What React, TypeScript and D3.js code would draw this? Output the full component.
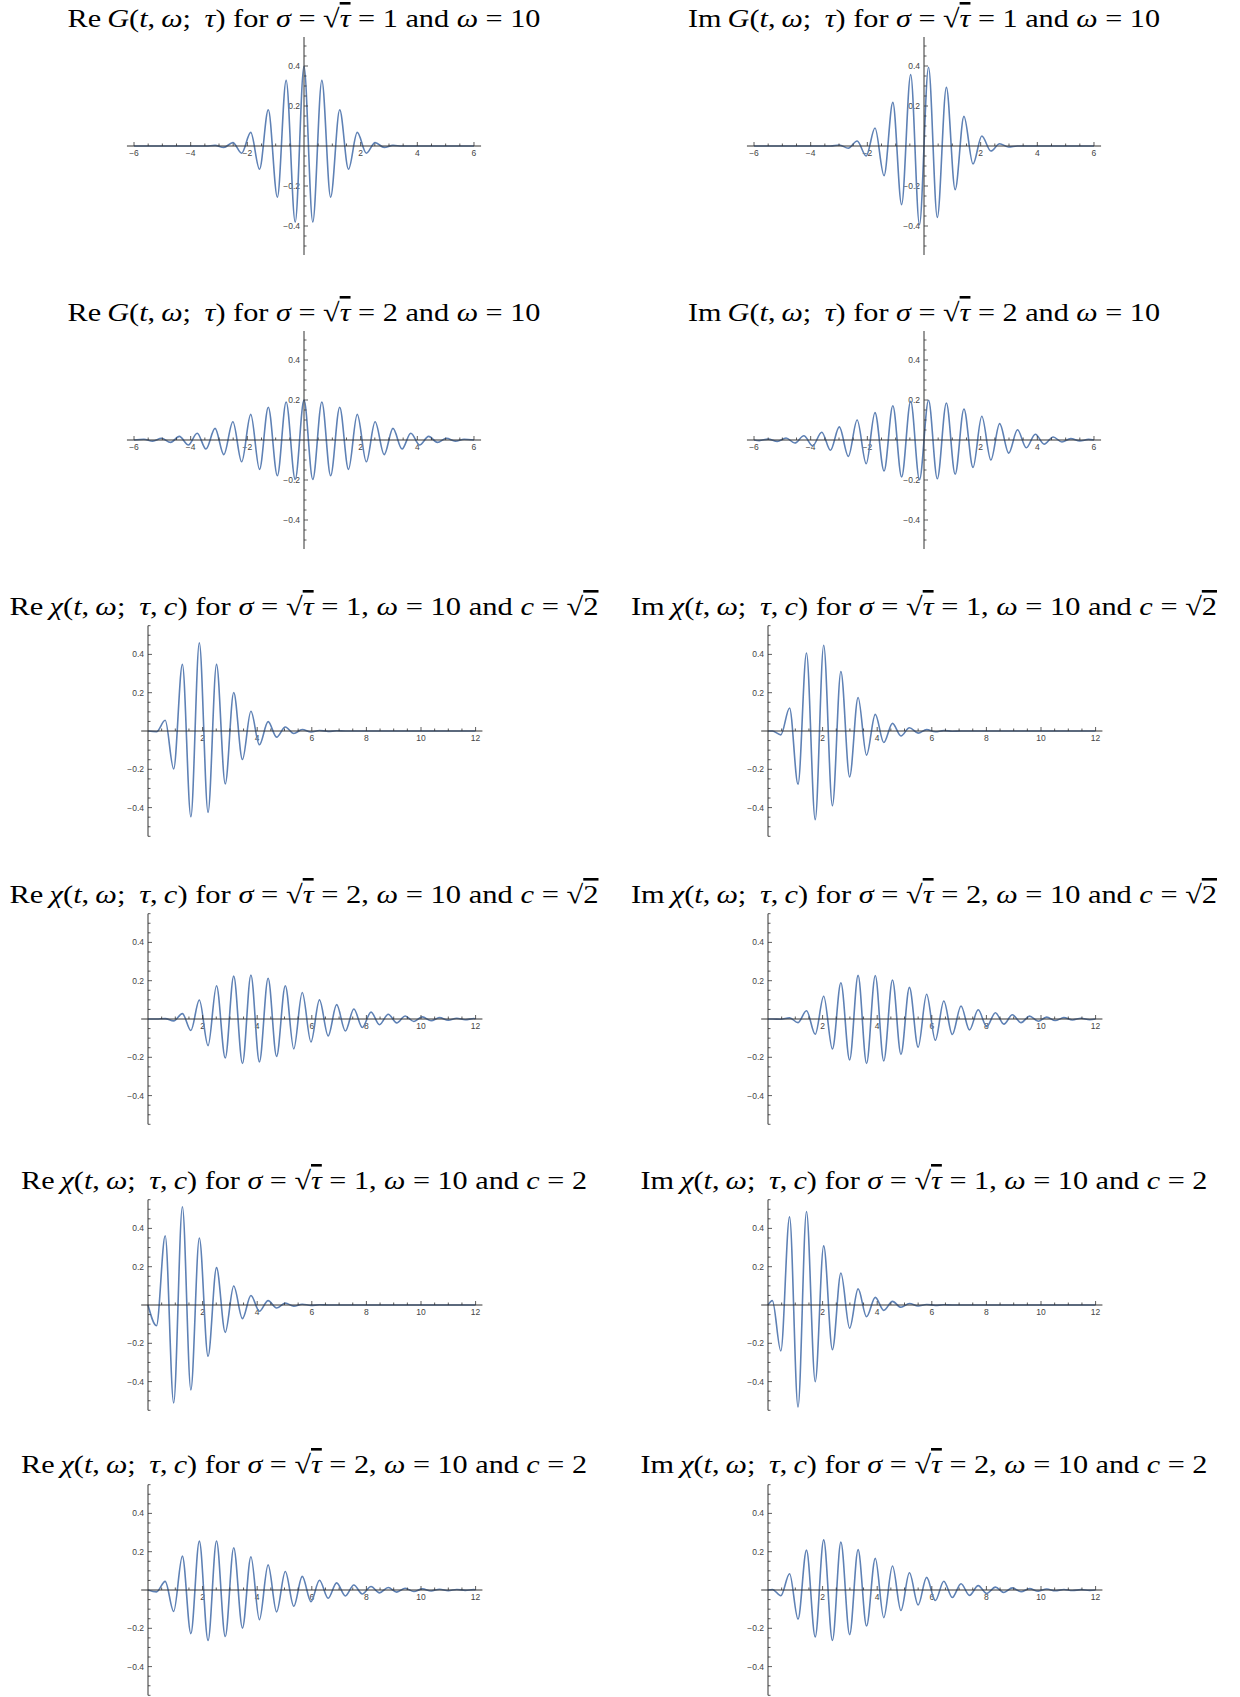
import React from 'react';
import * as d3 from 'd3';

const WIDTH = 1240;
const HEIGHT = 1697;

// ---- t positions of the extrema ----
const G_RE_T = [-6, -5.65, -5.34, -5.03, -4.71, -4.4, -4.08, -3.77, -3.46, -3.14, -2.83, -2.51, -2.2, -1.88, -1.57, -1.26, -0.94, -0.63, -0.31, 0, 0.31, 0.63, 0.94, 1.26, 1.57, 1.88, 2.2, 2.51, 2.83, 3.14, 3.46, 3.77, 4.08, 4.4, 4.71, 5.03, 5.34, 5.65, 6];
const G_IM_T = [-6, -5.81, -5.5, -5.18, -4.87, -4.56, -4.24, -3.93, -3.61, -3.3, -2.99, -2.67, -2.36, -2.04, -1.73, -1.41, -1.1, -0.79, -0.47, -0.16, 0.16, 0.47, 0.79, 1.1, 1.41, 1.73, 2.04, 2.36, 2.67, 2.99, 3.3, 3.61, 3.93, 4.24, 4.56, 4.87, 5.18, 5.5, 5.81, 6];
const CHI_RE_T = [0, 0.31, 0.63, 0.94, 1.26, 1.57, 1.88, 2.2, 2.51, 2.83, 3.14, 3.46, 3.77, 4.08, 4.4, 4.71, 5.03, 5.34, 5.65, 5.97, 6.28, 6.6, 6.91, 7.23, 7.54, 7.85, 8.17, 8.48, 8.8, 9.11, 9.42, 9.74, 10.05, 10.37, 10.68, 11.0, 11.31, 11.62, 11.94, 12];
const CHI_IM_T = [0, 0.16, 0.47, 0.79, 1.1, 1.41, 1.73, 2.04, 2.36, 2.67, 2.99, 3.3, 3.61, 3.93, 4.24, 4.56, 4.87, 5.18, 5.5, 5.81, 6.13, 6.44, 6.75, 7.07, 7.38, 7.7, 8.01, 8.33, 8.64, 8.95, 9.27, 9.58, 9.9, 10.21, 10.52, 10.84, 11.15, 11.47, 11.78, 12];

// ---- values at those positions ----
const RE_G_S1 = [0, 0, 0, 0, 0, 0, 0, 0, 0, 0.003, -0.007, 0.017, -0.036, 0.068, -0.116, 0.181, -0.256, 0.328, -0.38, 0.399, -0.38, 0.328, -0.256, 0.181, -0.116, 0.068, -0.036, 0.017, -0.007, 0.003, 0, 0, 0, 0, 0, 0, 0, 0, 0];
const IM_G_S1 = [0, 0, 0, 0, 0, 0, 0, 0, 0, 0, 0.005, -0.011, 0.025, -0.05, 0.09, -0.148, 0.218, -0.293, 0.357, -0.394, 0.394, -0.357, 0.293, -0.218, 0.148, -0.09, 0.05, -0.025, 0.011, -0.005, 0, 0, 0, 0, 0, 0, 0, 0, 0, 0];
const RE_G_S2 = [0, 0.0037, -0.0056, 0.0085, -0.012, 0.018, -0.025, 0.034, -0.045, 0.058, -0.073, 0.091, -0.109, 0.128, -0.147, 0.164, -0.1785, 0.19, -0.197, 0.1995, -0.197, 0.19, -0.1785, 0.164, -0.147, 0.128, -0.109, 0.091, -0.073, 0.058, -0.045, 0.034, -0.025, 0.018, -0.012, 0.0085, -0.0056, 0.0037, 0];
const IM_G_S2 = [0, -0.003, 0.0046, -0.007, 0.01, -0.015, 0.021, -0.029, 0.039, -0.051, 0.0655, -0.082, 0.1, -0.1185, 0.137, -0.155, 0.1715, -0.185, 0.194, -0.199, 0.199, -0.194, 0.185, -0.1715, 0.155, -0.137, 0.1185, -0.1, 0.082, -0.0655, 0.051, -0.039, 0.029, -0.021, 0.015, -0.01, 0.007, -0.0046, 0.003, 0];

const RE_CHI_S1_CR2 = [0, -0.004, 0.056, -0.198, 0.348, -0.448, 0.46, -0.425, 0.348, -0.276, 0.201, -0.149, 0.103, -0.072, 0.049, -0.032, 0.021, -0.013, 0.008, -0.005, 0.003, -0.002, 0.001, 0, 0, 0, 0, 0, 0, 0, 0, 0, 0, 0, 0, 0, 0, 0, 0, 0];
const IM_CHI_S1_CR2 = [0, 0, -0.02, 0.12, -0.278, 0.407, -0.463, 0.448, -0.39, 0.311, -0.24, 0.175, -0.126, 0.087, -0.06, 0.04, -0.026, 0.017, -0.011, 0.007, -0.004, 0.002, -0.001, 0, 0, 0, 0, 0, 0, 0, 0, 0, 0, 0, 0, 0, 0, 0, 0, 0];
const RE_CHI_S2_CR2 = [0, 0, 0.002, -0.01, 0.028, -0.06, 0.099, -0.139, 0.174, -0.204, 0.224, -0.232, 0.23, -0.224, 0.213, -0.195, 0.174, -0.156, 0.138, -0.12, 0.1, -0.088, 0.075, -0.063, 0.052, -0.044, 0.036, -0.03, 0.025, -0.02, 0.016, -0.013, 0.011, -0.009, 0.007, -0.006, 0.004, -0.004, 0.003, 0];
const IM_CHI_S2_CR2 = [0, 0, -0.001, 0.006, -0.019, 0.043, -0.08, 0.119, -0.157, 0.189, -0.214, 0.228, -0.232, 0.227, -0.219, 0.204, -0.185, 0.165, -0.147, 0.129, -0.111, 0.094, -0.081, 0.068, -0.057, 0.048, -0.04, 0.033, -0.027, 0.022, -0.019, 0.015, -0.012, 0.01, -0.008, 0.007, -0.005, 0.004, -0.004, 0];
const RE_CHI_S1_C2 = [0, -0.108, 0.362, -0.511, 0.513, -0.443, 0.35, -0.268, 0.195, -0.143, 0.099, -0.071, 0.05, -0.033, 0.023, -0.016, 0.01, -0.006, 0.004, -0.002, 0.001, 0, 0, 0, 0, 0, 0, 0, 0, 0, 0, 0, 0, 0, 0, 0, 0, 0, 0, 0];
const IM_CHI_S1_C2 = [0, 0.023, -0.24, 0.46, -0.533, 0.488, -0.4, 0.309, -0.233, 0.167, -0.121, 0.084, -0.061, 0.04, -0.028, 0.019, -0.012, 0.008, -0.005, 0.003, -0.002, 0.001, 0, 0, 0, 0, 0, 0, 0, 0, 0, 0, 0, 0, 0, 0, 0, 0, 0, 0];
const RE_CHI_S2_C2 = [0, -0.01, 0.045, -0.112, 0.177, -0.228, 0.255, -0.264, 0.256, -0.243, 0.221, -0.199, 0.174, -0.155, 0.131, -0.114, 0.097, -0.085, 0.071, -0.061, 0.051, -0.043, 0.037, -0.031, 0.026, -0.021, 0.018, -0.015, 0.013, -0.011, 0.009, -0.008, 0.006, -0.005, 0.004, -0.004, 0.003, -0.002, 0.002, 0];
const IM_CHI_S2_C2 = [0, 0.003, -0.03, 0.085, -0.152, 0.208, -0.245, 0.262, -0.263, 0.25, -0.233, 0.211, -0.188, 0.165, -0.144, 0.125, -0.107, 0.09, -0.078, 0.066, -0.055, 0.046, -0.039, 0.033, -0.028, 0.023, -0.018, 0.015, -0.013, 0.011, -0.009, 0.007, -0.006, 0.005, -0.004, 0.003, -0.003, 0.002, -0.002, 0];

// ---- tick labels ----
const X_TICKS_G = [-6, -4, -2, 2, 4, 6];
const X_TICKS_CHI = [2, 4, 6, 8, 10, 12];
const Y_TICKS = [-0.4, -0.2, 0.2, 0.4];

type Part = [string, string];

const titleG = (pre: string, s: string): Part[] => [
  [pre, 'r'], ['\u2009', 'r'], ['G', 'i'], ['(', 'r'], ['t', 'i'], [',\u2009', 'r'], ['ω', 'i'], ['; \u2009', 'r'], ['τ', 'i'], [')', 'r'],
  [' for ', 'r'], ['σ', 'i'], [' = ', 'r'], ['√', 'r'], ['τ', 'io'], [' = ' + s + ' and ', 'r'], ['ω', 'i'], [' = 10', 'r'],
];
const titleChi = (pre: string, s: string, c: string): Part[] => [
  [pre, 'r'], ['\u2009', 'r'], ['χ', 'i'], ['(', 'r'], ['t', 'i'], [',\u2009', 'r'], ['ω', 'i'], ['; \u2009', 'r'], ['τ', 'i'], [',\u2009', 'r'], ['c', 'i'], [')', 'r'],
  [' for ', 'r'], ['σ', 'i'], [' = ', 'r'], ['√', 'r'], ['τ', 'io'], [' = ' + s + ', ', 'r'], ['ω', 'i'], [' = 10 and ', 'r'], ['c', 'i'], [' = ', 'r'],
  ...(c === 'r2' ? ([['√', 'r'], ['2', 'o']] as Part[]) : ([['2', 'r']] as Part[])),
];

interface PanelDef {
  kind: 'G' | 'C';
  col: number;
  axisY: number;
  titleY: number;
  titleLen: number;
  title: Part[];
  t: number[];
  v: number[];
}

const PANELS: PanelDef[] = [
  { kind: 'G', col: 0, axisY: 146, titleY: 27, titleLen: 473, title: titleG('Re', '1'), t: G_RE_T, v: RE_G_S1 },
  { kind: 'G', col: 1, axisY: 146, titleY: 27, titleLen: 472, title: titleG('Im', '1'), t: G_IM_T, v: IM_G_S1 },
  { kind: 'G', col: 0, axisY: 440, titleY: 321, titleLen: 473, title: titleG('Re', '2'), t: G_RE_T, v: RE_G_S2 },
  { kind: 'G', col: 1, axisY: 440, titleY: 321, titleLen: 472, title: titleG('Im', '2'), t: G_IM_T, v: IM_G_S2 },
  { kind: 'C', col: 0, axisY: 731, titleY: 615, titleLen: 589, title: titleChi('Re', '1', 'r2'), t: CHI_RE_T, v: RE_CHI_S1_CR2 },
  { kind: 'C', col: 1, axisY: 731, titleY: 615, titleLen: 586, title: titleChi('Im', '1', 'r2'), t: CHI_IM_T, v: IM_CHI_S1_CR2 },
  { kind: 'C', col: 0, axisY: 1019, titleY: 903, titleLen: 589, title: titleChi('Re', '2', 'r2'), t: CHI_RE_T, v: RE_CHI_S2_CR2 },
  { kind: 'C', col: 1, axisY: 1019, titleY: 903, titleLen: 586, title: titleChi('Im', '2', 'r2'), t: CHI_IM_T, v: IM_CHI_S2_CR2 },
  { kind: 'C', col: 0, axisY: 1305, titleY: 1189, titleLen: 566, title: titleChi('Re', '1', '2'), t: CHI_RE_T, v: RE_CHI_S1_C2 },
  { kind: 'C', col: 1, axisY: 1305, titleY: 1189, titleLen: 567, title: titleChi('Im', '1', '2'), t: CHI_IM_T, v: IM_CHI_S1_C2 },
  { kind: 'C', col: 0, axisY: 1590, titleY: 1473, titleLen: 566, title: titleChi('Re', '2', '2'), t: CHI_RE_T, v: RE_CHI_S2_C2 },
  { kind: 'C', col: 1, axisY: 1590, titleY: 1473, titleLen: 567, title: titleChi('Im', '2', '2'), t: CHI_IM_T, v: IM_CHI_S2_C2 },
];

const COL_CENTER = [304, 924];
const CURVE_COLOR = '#5E81B5';
const AXIS_COLOR = '#333';
const LABEL_COLOR = '#444';

function Title({ cx, y, len, parts }: { cx: number; y: number; len: number; parts: Part[] }) {
  return (
    <text
      x={cx}
      y={y}
      textAnchor="middle"
      textLength={len}
      lengthAdjust="spacingAndGlyphs"
      fontFamily="'Liberation Serif', 'DejaVu Serif', serif"
      fontSize={26}
      fill="#000"
      style={{ whiteSpace: 'pre' }}
    >
      {parts.map(([s, st], i) => (
        <tspan
          key={i}
          fontStyle={st.includes('i') ? 'italic' : 'normal'}
          textDecoration={st.includes('o') ? 'overline' : undefined}
        >
          {s}
        </tspan>
      ))}
    </text>
  );
}

function Panel({ p }: { p: PanelDef }) {
  const isG = p.kind === 'G';
  const ox = isG ? [304, 924][p.col] : [148, 768][p.col];
  const xUnit = isG ? 28.33 : 27.3;
  const yUnit = isG ? 200 : 191.5;
  const xMin = isG ? -6.25 : -0.25;
  const xMax = isG ? 6.25 : 12.25;
  const yMax = isG ? 0.545 : 0.55;
  const x = d3.scaleLinear().domain([0, 1]).range([ox, ox + xUnit]);
  const y = d3.scaleLinear().domain([0, 1]).range([p.axisY, p.axisY - yUnit]);

  const xTickVals: { v: number; major: boolean }[] = [];
  for (let i = Math.ceil(xMin * 2); i <= Math.floor(xMax * 2); i++) {
    if (i === 0) continue;
    xTickVals.push({ v: i / 2, major: i % 4 === 0 });
  }
  const yTickVals: { v: number; major: boolean }[] = [];
  for (let i = -Math.floor(yMax * 20 + 1e-6); i <= Math.floor(yMax * 20 + 1e-6); i++) {
    if (i === 0) continue;
    yTickVals.push({ v: i / 20, major: i % 4 === 0 });
  }

  const line = d3
    .line<number>()
    .x((_, i) => x(p.t[i]))
    .y((d) => y(d))
    .curve(d3.curveMonotoneX);

  const xLabels = isG ? X_TICKS_G : X_TICKS_CHI;
  const fmt = (d: number) => (d < 0 ? '\u2212' : '') + String(Math.abs(d));

  return (
    <g>
      <Title cx={COL_CENTER[p.col]} y={p.titleY} len={p.titleLen} parts={p.title} />
      {/* tick labels */}
      <g fontFamily="'Liberation Sans', Arial, sans-serif" fontSize={8.5} fill={LABEL_COLOR}>
        {xLabels.map((d) => (
          <text key={'xl' + d} x={x(d)} y={p.axisY + 9.5} textAnchor="middle">
            {fmt(d)}
          </text>
        ))}
        {Y_TICKS.map((d) => (
          <text key={'yl' + d} x={ox - 4} y={y(d) + 3} textAnchor="end">
            {fmt(d)}
          </text>
        ))}
      </g>
      {/* curve */}
      <path d={line(p.v) || ''} fill="none" stroke={CURVE_COLOR} strokeWidth={1.6} strokeLinejoin="round" />
      {/* axes */}
      <g stroke={AXIS_COLOR} strokeWidth={1} fill="none">
        <line x1={x(xMin)} x2={x(xMax)} y1={p.axisY} y2={p.axisY} />
        <line x1={ox} x2={ox} y1={y(yMax)} y2={y(-yMax)} />
        {xTickVals.map((d) => (
          <line key={'xt' + d.v} x1={x(d.v)} x2={x(d.v)} y1={p.axisY} y2={p.axisY - (d.major ? 4 : 2.5)} strokeWidth={0.8} />
        ))}
        {yTickVals.map((d) => (
          <line key={'yt' + d.v} x1={ox} x2={ox + (d.major ? 4 : 2.5)} y1={y(d.v)} y2={y(d.v)} strokeWidth={0.8} />
        ))}
      </g>
    </g>
  );
}

export default function App() {
  return (
    <svg
      width={WIDTH}
      height={HEIGHT}
      viewBox={`0 0 ${WIDTH} ${HEIGHT}`}
      style={{ position: 'absolute', left: 0, top: 0, background: '#fff' }}
    >
      <rect x={0} y={0} width={WIDTH} height={HEIGHT} fill="#fff" />
      {PANELS.map((p, i) => (
        <Panel key={i} p={p} />
      ))}
    </svg>
  );
}
